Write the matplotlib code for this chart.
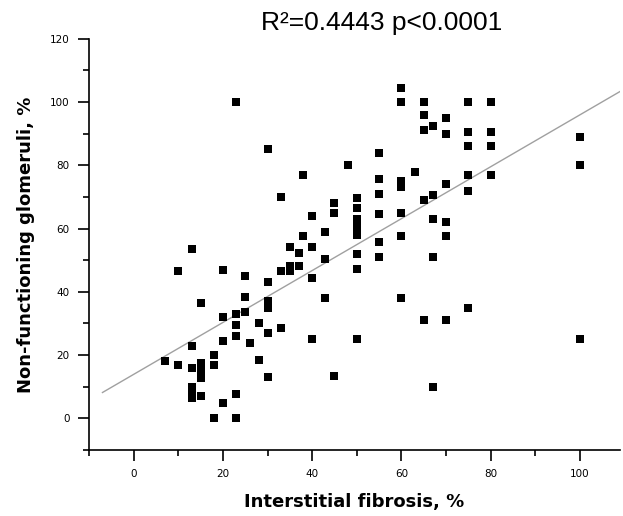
import matplotlib
matplotlib.use("Agg")
import matplotlib.pyplot as plt
from matplotlib.ticker import MultipleLocator

# Data
fibrosis = [23, 30, 48, 38, 33, 45, 45, 50, 50, 40, 43, 38, 50, 50, 50, 35, 37, 40, 13, 43, 50,
            60, 60, 65, 75, 80, 65, 70, 67, 65, 70, 75, 80, 75, 80, 100, 100, 55, 63, 55, 60, 60, 55,
            70, 75, 80, 75, 67, 65, 55, 60, 67, 70, 60, 70, 55, 55, 67,
            10, 20, 25, 30, 33, 35, 35, 37, 50, 40, 15, 25, 30, 30, 43, 20, 23, 25, 23, 28, 33, 23,
            30, 26, 20, 40, 50, 13, 18, 18, 7, 10, 13, 15, 15, 15, 28, 30, 45, 13, 13, 13, 15, 23,
            20, 18, 23,
            60, 75, 65, 70, 100, 67]
glomeruli = [100, 85, 80, 77, 70, 65, 68, 66.5, 69.5, 64, 59, 57.5, 58, 60.5, 63, 54.3, 52.3, 54.3, 53.6, 50.4, 52,
             104.5, 100, 100, 100, 100, 96, 95, 92.5, 91, 90, 90.5, 90.5, 86, 86, 89, 80, 84, 78, 75.5, 75, 73, 71,
             74, 77, 77, 72, 70.5, 69, 64.5, 65, 63, 62, 57.5, 57.5, 55.7, 51, 51,
             46.5, 47, 45, 43, 46.5, 48.3, 46.5, 48, 47.3, 44.5, 36.5, 38.5, 37, 35, 38, 32, 33, 33.5, 29.5, 30, 28.5, 26,
             27, 23.7, 24.3, 25, 25, 23, 20, 17, 18, 17, 16, 17.5, 15, 12.7, 18.3, 13.2, 13.3, 9.8, 7.5, 6.3, 7.2, 7.7,
             4.7, 0, 0,
             38, 35, 31, 31, 25, 10]

fit_intercept = 13.9
fit_slope = 0.82
fit_x_range = [-7, 110]

title = "R²=0.4443 p<0.0001"
x_label = "Interstitial fibrosis, %"
y_label = "Non-functioning glomeruli, %"
x_ticks = [0, 20, 40, 60, 80, 100]
y_ticks = [0, 20, 40, 60, 80, 100, 120]

fig = plt.figure(figsize=(6.23, 5.16), dpi=100)
ax = fig.add_axes([0.143, 0.128, 0.852, 0.797])

fit_y = [fit_intercept + fit_slope * v for v in fit_x_range]
ax.plot(fit_x_range, fit_y, color="#a0a0a0", lw=1.0, zorder=1)
ax.scatter(fibrosis, glomeruli, marker="s", s=34, c="black", linewidths=0, zorder=2)

ax.set_xlim(-10, 109)
ax.set_ylim(-10, 120)
ax.set_xticks(x_ticks)
ax.set_yticks(y_ticks)
ax.xaxis.set_minor_locator(MultipleLocator(10))
ax.yaxis.set_minor_locator(MultipleLocator(10))
for s in ["top", "right"]:
    ax.spines[s].set_visible(False)
for s in ["left", "bottom"]:
    ax.spines[s].set_linewidth(1.2)
ax.tick_params(which="major", direction="out", length=8, width=1.2, labelsize=7.5, pad=6)
ax.tick_params(which="minor", direction="out", length=4, width=1.2)

ax.set_xlabel(x_label, fontsize=13, fontweight="bold", labelpad=10)
ax.set_ylabel(y_label, fontsize=13, fontweight="bold", labelpad=11)
fig.text(0.612, 0.955, title, fontsize=19, family="Liberation Sans", ha="center", va="center")

fig.savefig("out.png", dpi=100)
